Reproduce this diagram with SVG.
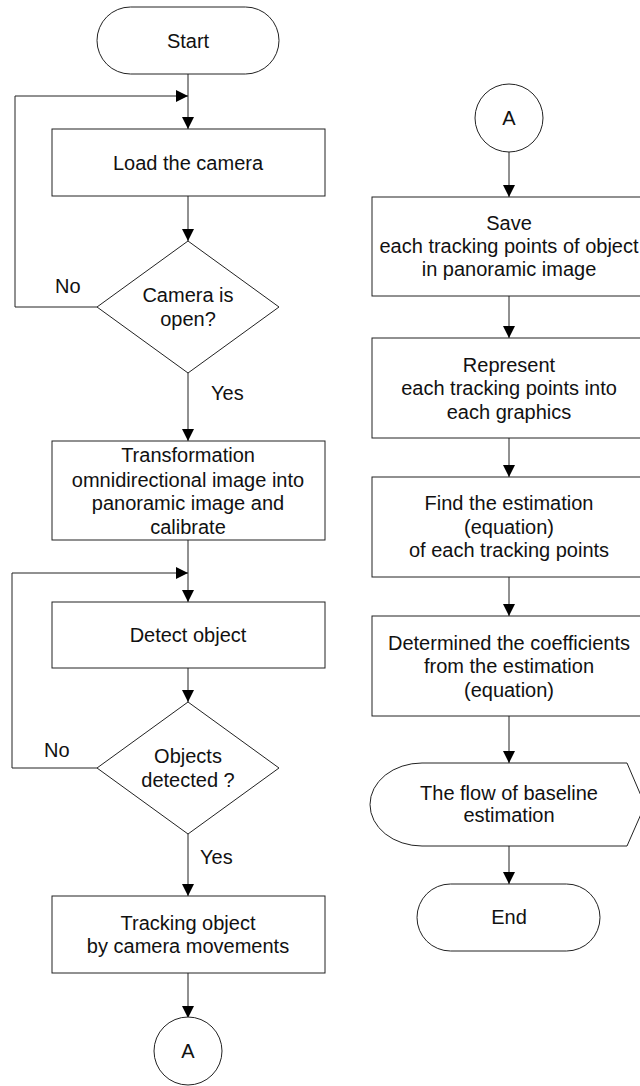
<svg xmlns="http://www.w3.org/2000/svg" width="640" height="1086" viewBox="0 0 640 1086">
<style>
.s{fill:#fff;stroke:#222;stroke-width:1}
.c{fill:none;stroke:#222;stroke-width:1}
text{font-family:"Liberation Sans",Arial,sans-serif;font-size:20px;fill:#111;text-anchor:middle}
.l{text-anchor:start}
</style>
<defs>
<marker id="a" markerWidth="12" markerHeight="12" refX="12" refY="6" orient="auto" markerUnits="userSpaceOnUse">
<path d="M0,0 L12,6 L0,12 Z" fill="#000"/>
</marker>
</defs>
<rect width="640" height="1086" fill="#fff"/>
<g id="connectors">
<path class="c" d="M188,74 V129" marker-end="url(#a)"/>
<path class="c" d="M97,307 H15 V96 H188" marker-end="url(#a)"/>
<path class="c" d="M188,196 V241" marker-end="url(#a)"/>
<path class="c" d="M188,373 V441" marker-end="url(#a)"/>
<path class="c" d="M188,540 V602" marker-end="url(#a)"/>
<path class="c" d="M97,768 H12 V573 H188" marker-end="url(#a)"/>
<path class="c" d="M188,668 V702" marker-end="url(#a)"/>
<path class="c" d="M188,834 V896" marker-end="url(#a)"/>
<path class="c" d="M188,973 V1018" marker-end="url(#a)"/>
<path class="c" d="M509,152 V197" marker-end="url(#a)"/>
<path class="c" d="M509,296 V338" marker-end="url(#a)"/>
<path class="c" d="M509,438 V477" marker-end="url(#a)"/>
<path class="c" d="M509,577 V616" marker-end="url(#a)"/>
<path class="c" d="M509,716 V763" marker-end="url(#a)"/>
<path class="c" d="M509,846 V884" marker-end="url(#a)"/>
<text class="l" x="55" y="293">No</text>
<text class="l" x="211" y="400">Yes</text>
<text class="l" x="44" y="757">No</text>
<text class="l" x="200" y="864">Yes</text>
</g>
<g id="start">
<rect class="s" x="97" y="7" width="182" height="67" rx="33.5"/>
<text x="188" y="48">Start</text>
</g>
<g id="load">
<rect class="s" x="52" y="129" width="273" height="67"/>
<text x="188" y="170">Load the camera</text>
</g>
<g id="camopen">
<path class="s" d="M188,241 L279,307 L188,373 L97,307 Z"/>
<text x="188" y="302">Camera is</text>
<text x="188" y="326">open?</text>
</g>
<g id="transform">
<rect class="s" x="52" y="441" width="273" height="99"/>
<text x="188" y="462">Transformation</text>
<text x="188" y="487">omnidirectional image into</text>
<text x="188" y="510">panoramic image and</text>
<text x="188" y="534">calibrate</text>
</g>
<g id="detect">
<rect class="s" x="52" y="602" width="273" height="66"/>
<text x="188" y="642">Detect object</text>
</g>
<g id="detected">
<path class="s" d="M188,702 L279,768 L188,834 L97,768 Z"/>
<text x="188" y="763">Objects</text>
<text x="188" y="787">detected ?</text>
</g>
<g id="tracking">
<rect class="s" x="52" y="896" width="273" height="77"/>
<text x="188" y="930">Tracking object</text>
<text x="188" y="953">by camera movements</text>
</g>
<g id="connA1">
<circle class="s" cx="188" cy="1051" r="34"/>
<text x="188" y="1058">A</text>
</g>
<g id="connA2">
<circle class="s" cx="509" cy="118" r="34"/>
<text x="509" y="125">A</text>
</g>
<g id="save">
<rect class="s" x="372" y="197" width="280" height="99"/>
<text x="509" y="230">Save</text>
<text x="509" y="253">each tracking points of object</text>
<text x="509" y="276">in panoramic image</text>
</g>
<g id="represent">
<rect class="s" x="372" y="338" width="280" height="100"/>
<text x="509" y="372">Represent</text>
<text x="509" y="395">each tracking points into</text>
<text x="509" y="419">each graphics</text>
</g>
<g id="find">
<rect class="s" x="372" y="477" width="280" height="100"/>
<text x="509" y="510">Find the estimation</text>
<text x="509" y="534">(equation)</text>
<text x="509" y="557">of each tracking points</text>
</g>
<g id="determined">
<rect class="s" x="372" y="616" width="280" height="100"/>
<text x="509" y="650">Determined the coefficients</text>
<text x="509" y="673">from the estimation</text>
<text x="509" y="697">(equation)</text>
</g>
<g id="display">
<path class="s" d="M422,763 L627,763 L645,805 L627,846 L422,846 A52,41.5 0 0 1 422,763 Z"/>
<text x="509" y="800">The flow of baseline</text>
<text x="509" y="822">estimation</text>
</g>
<g id="end">
<rect class="s" x="417" y="884" width="183" height="67" rx="33.5"/>
<text x="509" y="924">End</text>
</g>
</svg>
